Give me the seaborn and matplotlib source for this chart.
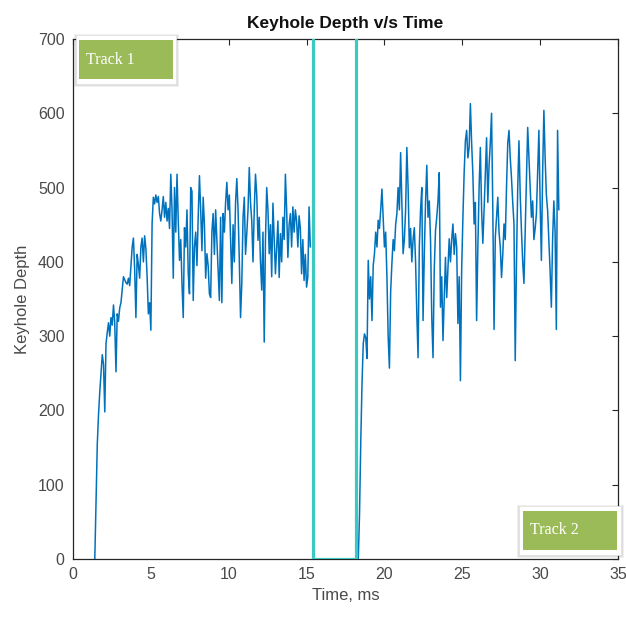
import numpy as np
import pandas as pd
import matplotlib
matplotlib.use("Agg")
import matplotlib.pyplot as plt
from matplotlib.patches import Rectangle
import seaborn as sns

# Keyhole depth samples, one every SAMPLE_MS milliseconds
SAMPLE_MS = 0.08
TRACK1_START = 1.40
TRACK2_START = 18.24

track1_depth = [
    0, 80, 155, 195, 225, 250, 275, 262, 198, 290,
    305, 318, 300, 325, 315, 342, 318, 252, 330, 320,
    338, 345, 362, 380, 376, 372, 370, 378, 368, 395,
    420, 432, 390, 325, 410, 396, 378, 420, 432, 400,
    435, 418, 380, 330, 345, 308, 452, 487, 478, 490,
    480, 488, 465, 455, 470, 488, 460, 480, 455, 472,
    445, 518, 470, 378, 500, 440, 518, 455, 402, 430,
    370, 325, 446, 420, 470, 385, 357, 500, 495, 348,
    420, 440, 395, 460, 516, 470, 415, 487, 450, 378,
    411, 395, 357, 352, 440, 465, 410, 470, 429, 390,
    348, 460, 345, 465, 440, 480, 507, 470, 490, 429,
    371, 450, 400, 480, 512, 470, 402, 325, 371, 460,
    487, 410, 438, 470, 527, 480, 455, 400, 470, 518,
    490, 429, 460, 400, 362, 440, 292, 430, 500, 470,
    411, 450, 380, 479, 430, 384, 420, 455, 379, 438,
    400, 460, 430, 518, 470, 406, 450, 465, 420, 474,
    440, 470, 455, 420, 462, 445, 384, 430, 375, 410,
    366, 380, 474, 420,
]

track2_depth = [
    0, 0, 60, 157, 236, 290, 303, 298, 270, 402,
    350, 380, 321, 395, 411, 440, 420, 456, 445, 470,
    498, 460, 420, 440, 380, 300, 257, 360, 398, 430,
    415, 450, 465, 500, 470, 547, 480, 411, 430, 470,
    554, 500, 419, 445, 400, 430, 446, 400, 330, 271,
    420, 470, 500, 321, 410, 480, 530, 460, 482, 430,
    325, 271, 390, 442, 460, 482, 520, 339, 380, 294,
    350, 406, 352, 390, 431, 400, 430, 451, 410, 438,
    420, 317, 380, 240, 390, 460, 520, 563, 577, 540,
    554, 613, 560, 518, 451, 480, 321, 420, 500, 554,
    470, 425, 470, 520, 567, 480, 530, 560, 600, 470,
    309, 433, 460, 487, 440, 420, 379, 410, 451, 430,
    500, 560, 577, 540, 513, 480, 451, 267, 400, 500,
    563, 490, 442, 400, 371, 440, 513, 581, 540, 496,
    460, 482, 430, 445, 465, 520, 577, 480, 402, 520,
    604, 540, 490, 469, 430, 388, 339, 430, 482, 440,
    309, 577, 470,
]

# Boundaries of the gap between the two tracks
gap_start_ms = 15.4
gap_end_ms = 18.2

x_ticks = [0, 5, 10, 15, 20, 25, 30, 35]
y_ticks = [0, 100, 200, 300, 400, 500, 600, 700]

t1 = TRACK1_START + SAMPLE_MS * np.arange(len(track1_depth))
t2 = TRACK2_START + SAMPLE_MS * np.arange(len(track2_depth))
df = pd.DataFrame({
    "time": np.concatenate([t1, [np.nan], t2]),
    "depth": np.concatenate([track1_depth, [np.nan], track2_depth]),
})

sns.set_style("white")
plt.rcParams["font.family"] = ["Liberation Sans", "DejaVu Sans"]

fig = plt.figure(figsize=(6.26, 6.23), dpi=100)
ax = fig.add_axes([73 / 626, 1 - 559 / 623, (618 - 73) / 626, (559 - 39) / 623])

ax.plot(df["time"], df["depth"], color="#0072BD", linewidth=1.1, zorder=3)
sns.lineplot(x=[gap_start_ms, gap_start_ms, gap_end_ms, gap_end_ms],
             y=[700, 0, 0, 700], sort=False, estimator=None,
             color="#3CC9BF", linewidth=2.3, ax=ax, zorder=4)

ax.set_xlim(0, 35)
ax.set_ylim(0, 700)
ax.set_xticks(x_ticks)
ax.set_yticks(y_ticks)
ax.tick_params(axis="both", which="both", direction="in", length=4.5,
               width=0.8, colors="#262626", labelcolor="#4a4a4a",
               labelsize=11.5, top=True, right=True, pad=6)
for s in ax.spines.values():
    s.set_visible(True)
    s.set_color("#262626")
    s.set_linewidth(0.9)

ax.set_title("Keyhole Depth v/s Time", fontsize=12.5, fontweight="bold",
             color="#111111", pad=8)
ax.set_xlabel("Time, ms", fontsize=12, color="#4a4a4a", labelpad=4)
ax.set_ylabel("Keyhole Depth", fontsize=12, color="#4a4a4a", labelpad=6)


def track_label(text, outer, inner):
    """Green label card with white frame and soft shadow (pixel coords, origin top-left)."""
    W, H = 626, 623

    def rect(x0, y0, x1, y1, **kw):
        r = Rectangle((x0 / W, 1 - y1 / H), (x1 - x0) / W, (y1 - y0) / H,
                      transform=fig.transFigure, **kw)
        fig.add_artist(r)

    ox0, oy0, ox1, oy1 = outer
    for k, a in enumerate([0.10, 0.08, 0.06]):
        d = k + 1
        rect(ox0 - d + 1, oy0 - d + 2, ox1 + d, oy1 + d, facecolor="#000000",
             edgecolor="none", alpha=a, zorder=10)
    rect(ox0, oy0, ox1, oy1, facecolor="white", edgecolor="#e4e4e4",
         linewidth=0.6, zorder=11)
    ix0, iy0, ix1, iy1 = inner
    rect(ix0, iy0, ix1, iy1, facecolor="#9BBB59", edgecolor="none", zorder=12)
    fig.text((ix0 + 7) / W, 1 - ((iy0 + iy1) / 2) / H, text,
             family=["Liberation Serif", "DejaVu Serif"], fontsize=11.5,
             color="white", ha="left", va="center", zorder=13)


track_label("Track 1", (76, 35, 176, 84), (79, 40, 173, 79))
track_label("Track 2", (519, 506, 621, 555), (523, 511, 617, 550))

fig.savefig("out.png", dpi=100, facecolor="white")
